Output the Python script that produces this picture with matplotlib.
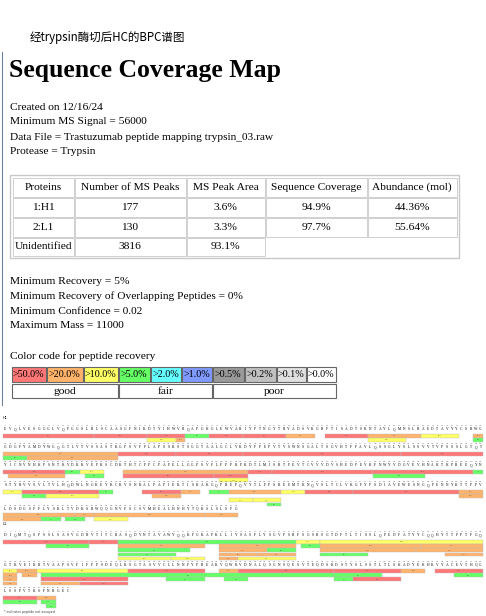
import matplotlib
matplotlib.use('Agg')
import matplotlib.pyplot as plt
from matplotlib.patches import Rectangle

SERIF = ['Liberation Serif', 'DejaVu Serif']

HC_SEQ = ('EVQLVESGGGLVQPGGSLRLSCAASGFNIKDTYIHWVRQAPGKGLEWVARIYPTNGYTRYADSVKGRFTISADTSKNTAYLQMNSLRAEDTAVYYCSRWG'
          'GDGFYAMDYWGQGTLVTVSSASTKGPSVFPLAPSSKSTSGGTAALGCLVKDYFPEPVTVSWNSGALTSGVHTFPAVLQSSGLYSLSSVVTVPSSSLGTQT'
          'YICNVNHKPSNTKVDKKVEPKSCDKTHTCPPCPAPELLGGPSVFLFPPKPKDTLMISRTPEVTCVVVDVSHEDPEVKFNWYVDGVEVHNAKTKPREEQYN'
          'STYRVVSVLTVLHQDWLNGKEYKCKVSNKALPAPIEKTISKAKGQPREPQVYTLPPSREEMTKNQVSLTCLVKGFYPSDIAVEWESNGQPENNYKTTPPV'
          'LDSDGSFFLYSKLTVDKSRWQQGNVFSCSVMHEALHNHYTQKSLSLSPG')
LC_SEQ = ('DIQMTQSPSSLSASVGDRVTITCRASQDVNTAVAWYQQKPGKAPKLLIYSASFLYSGVPSRFSGSRSGTDFTLTISSLQPEDFATYYCQQHYTTPPTFGQ'
          'GTKVEIKRTVAAPSVFIFPPSDEQLKSGTASVVCLLNNFYPREAKVQWKVDNALQSGNSQESVTEQDSKDSTYSLSSTLTLSKADYEKHKVYACEVTHQ'
          'GLSSPVTKSFNRGEC')

# peptides: (start, end, stack row, recovery %)
HC_PEP = [
    (1, 19, 0, 90.7), (20, 30, 0, 83.2), (31, 38, 0, 60.5), (39, 43, 0, 9.8), (44, 50, 0, 66.0),
    (51, 59, 0, 90.7), (60, 65, 0, 34.7), (68, 76, 0, 65.4), (77, 87, 0, 48.2), (88, 95, 0, 17.4),
    (99, 100, 0, 28.1), (31, 36, 1, 16.4), (37, 38, 1, 23.4), (77, 84, 1, 15.9), (99, 100, 1, 8.8),
    (101, 124, 0, 45.2), (125, 136, 0, 56.8), (137, 150, 0, 97.0), (151, 183, 0, 86.9), (184, 200, 0, 72.3),
    (101, 105, 1, 9.0), (106, 124, 1, 32.5),
    (201, 213, 0, 71.0), (214, 216, 0, 9.6), (217, 221, 0, 13.1), (226, 251, 0, 41.9), (252, 256, 0, 77.4),
    (257, 277, 0, 92.0), (278, 298, 0, 58.3), (299, 300, 0, 7.7), (202, 213, 1, 29.0), (218, 221, 1, 6.8),
    (226, 244, 1, 76.2), (245, 251, 1, 61.3), (278, 288, 1, 6.9), (246, 251, 2, 11.8),
    (301, 304, 0, 12.1), (305, 320, 0, 76.0), (321, 323, 0, 5.8), (330, 337, 0, 58.0), (338, 341, 0, 24.0),
    (344, 347, 0, 7.7), (348, 358, 0, 45.0), (359, 363, 0, 12.0), (364, 373, 0, 72.5), (374, 395, 0, 80.3),
    (396, 400, 0, 44.1), (305, 309, 1, 8.6), (310, 320, 1, 16.2), (332, 337, 1, 35.2), (396, 400, 1, 38.7),
    (348, 352, 2, 11.1), (353, 358, 2, 10.1), (356, 358, 3, 6.0),
    (401, 415, 0, 48.0), (416, 419, 0, 22.0), (420, 442, 0, 38.3), (443, 449, 0, 40.6),
    (401, 408, 1, 28.7), (409, 412, 1, 7.0), (414, 417, 1, 8.4), (420, 426, 1, 15.2),
]
LC_PEP = [
    (1, 18, 0, 88.8), (19, 24, 0, 63.0), (25, 61, 0, 9.6), (62, 66, 0, 12.0), (67, 100, 0, 15.5),
    (10, 18, 1, 6.0), (25, 42, 1, 41.0), (46, 61, 1, 39.1), (63, 66, 1, 6.8), (67, 87, 1, 37.1), (88, 100, 1, 30.1),
    (25, 39, 2, 8.6), (46, 55, 2, 30.1), (56, 61, 2, 6.6), (67, 86, 2, 32.3), (87, 100, 2, 24.5),
    (25, 36, 3, 7.4), (46, 53, 3, 47.7), (54, 61, 3, 39.2), (67, 76, 3, 9.0), (93, 100, 3, 22.1),
    (25, 35, 4, 16.7), (36, 42, 4, 12.8), (46, 49, 4, 22.0), (50, 61, 4, 15.7),
    (101, 103, 0, 19.1), (104, 107, 0, 28.0), (108, 126, 0, 17.6), (127, 142, 0, 77.8), (146, 149, 0, 30.0),
    (150, 169, 0, 83.6), (170, 183, 0, 66.8), (184, 188, 0, 37.0), (191, 200, 0, 65.3),
    (101, 103, 1, 28.2), (105, 107, 1, 26.1), (109, 169, 1, 9.9), (170, 179, 1, 8.2), (195, 200, 1, 6.6),
    (101, 103, 2, 33.0), (109, 126, 2, 75.2), (135, 142, 2, 9.7), (147, 151, 2, 6.1), (170, 173, 2, 7.1),
    (174, 183, 2, 58.7), (101, 103, 3, 24.0), (109, 116, 3, 22.7), (117, 126, 3, 62.0),
    (201, 207, 0, 96.0), (208, 211, 0, 37.0), (201, 207, 1, 8.8), (209, 211, 1, 7.5), (210, 211, 2, 7.1),
]

BIN_LABELS = ['>50.0%', '>20.0%', '>10.0%', '>5.0%', '>2.0%', '>1.0%', '>0.5%', '>0.2%', '>0.1%', '>0.0%']
BIN_LIMITS = [50, 20, 10, 5, 2, 1, 0.5, 0.2, 0.1, 0.0]
BIN_COLORS = ['#ff7777', '#ffb36b', '#ffff66', '#66ff66', '#66ffff', '#7f99ff',
              '#999999', '#c0c0c0', '#e0e0e0', '#ffffff']
QUALITY = [('good', 0, 3), ('fair', 3, 6), ('poor', 6, 10)]

TABLE_HEAD = ['Proteins', 'Number of MS Peaks', 'MS Peak Area', 'Sequence Coverage', 'Abundance (mol)']
TABLE_ROWS = [['1:H1', '177', '3.6%', '94.9%', '44.36%'],
              ['2:L1', '130', '3.3%', '97.7%', '55.64%'],
              ['Unidentified', '3816', '93.1%']]

INFO = ['Created on 12/16/24', 'Minimum MS Signal = 56000',
        'Data File = Trastuzumab peptide mapping trypsin_03.raw', 'Protease = Trypsin']
SETTINGS = ['Minimum Recovery = 5%', 'Minimum Recovery of Overlapping Peptides = 0%',
            'Minimum Confidence = 0.02', 'Maximum Mass = 11000']

FS = 8.2


def bin_color(v):
    for lim, c in zip(BIN_LIMITS, BIN_COLORS):
        if v > lim:
            return c
    return BIN_COLORS[-1]


def draw_chain(ax, label, label_y, line_tops, seq, peps):
    x0, step = 3.0, 4.8
    ax.text(3, label_y, label, fontsize=2.5, va='center', family='DejaVu Sans')
    for li, top in enumerate(line_tops):
        chunk = seq[li * 100:(li + 1) * 100]
        for i, aa in enumerate(chunk):
            xc = x0 + (i + 0.5) * step
            ax.text(xc, top, str(li * 100 + i + 1), fontsize=0.9, ha='center', va='center', color='#555')
            ax.text(xc, top + 3.5, aa, fontsize=2.6, ha='center', va='center', family=SERIF)
    for s, e, row, v in peps:
        li = (s - 1) // 100
        top = line_tops[li] + 8 + row * 4.2
        xs = x0 + ((s - 1) % 100) * step
        w = (e - s + 1) * step
        ax.add_patch(Rectangle((xs, top), w, 3.6, facecolor=bin_color(v), edgecolor='#bbbbbb', lw=0.3))
        ax.text(xs + w / 2, top + 1.8, f'{v:.1f}', fontsize=1.2, ha='center', va='center', color='#444')


fig = plt.figure(figsize=(4.86, 6.16), dpi=100)
ax = fig.add_axes([0, 0, 1, 1])
ax.set_xlim(0, 486)
ax.set_ylim(616, 0)
ax.axis('off')

ax.text(30, 38, '经trypsin酶切后HC的BPC谱图', fontsize=8.3, va='center',
        family=['Noto Sans CJK SC', 'DejaVu Sans'])
ax.plot([2, 2], [52, 405], color='#7080a0', lw=0.8)
ax.text(9, 70, 'Sequence Coverage Map', fontsize=18.5, fontweight='bold', va='center', family=SERIF)

for i, t in enumerate(INFO):
    ax.text(10, 107 + i * 15, t, fontsize=FS, va='center', family=SERIF)

# table
col_x = [12, 74, 186, 265, 367, 457]
row_y = [177, 197, 217, 237, 256]
ax.add_patch(Rectangle((10, 175), 449, 83, fill=False, edgecolor='#c8c8c8', lw=1.0))
for r, cells in enumerate([TABLE_HEAD] + TABLE_ROWS):
    for c, txt in enumerate(cells):
        ax.add_patch(Rectangle((col_x[c] + 0.5, row_y[r] + 0.5), col_x[c + 1] - col_x[c] - 1,
                               row_y[r + 1] - row_y[r] - 1, fill=False, edgecolor='#d0d0d0', lw=0.7))
        ax.text((col_x[c] + col_x[c + 1]) / 2, (row_y[r] + row_y[r + 1]) / 2, txt,
                fontsize=FS, ha='center', va='center', family=SERIF)

for i, t in enumerate(SETTINGS):
    ax.text(10, 281 + i * 15, t, fontsize=FS, va='center', family=SERIF)

ax.text(10, 356, 'Color code for peptide recovery', fontsize=FS, va='center', family=SERIF)
cell_x = [12, 47, 84, 119, 151, 182, 213, 245, 277, 307, 337]
for i, (lab, col) in enumerate(zip(BIN_LABELS, BIN_COLORS)):
    ax.add_patch(Rectangle((cell_x[i], 367), cell_x[i + 1] - cell_x[i] - 1.5, 15,
                           facecolor=col, edgecolor='#666', lw=0.8))
    ax.text((cell_x[i] + cell_x[i + 1] - 1.5) / 2, 374.5, lab, fontsize=7.3, ha='center', va='center',
            family=SERIF)
for lab, a, b in QUALITY:
    ax.add_patch(Rectangle((cell_x[a], 384), cell_x[b] - cell_x[a] - 1.5, 14, facecolor='white',
                           edgecolor='#666', lw=0.8))
    ax.text((cell_x[a] + cell_x[b] - 1.5) / 2, 391, lab, fontsize=FS, ha='center', va='center', family=SERIF)

draw_chain(ax, 'H1', 418, [426, 444, 462, 482, 505], HC_SEQ, HC_PEP)
draw_chain(ax, 'L1', 524, [532, 561, 588], LC_SEQ, LC_PEP)
ax.text(4, 612, '* indicates peptide not assayed', fontsize=2.3, va='center', color='#444')

fig.savefig('out.png', dpi=100)
